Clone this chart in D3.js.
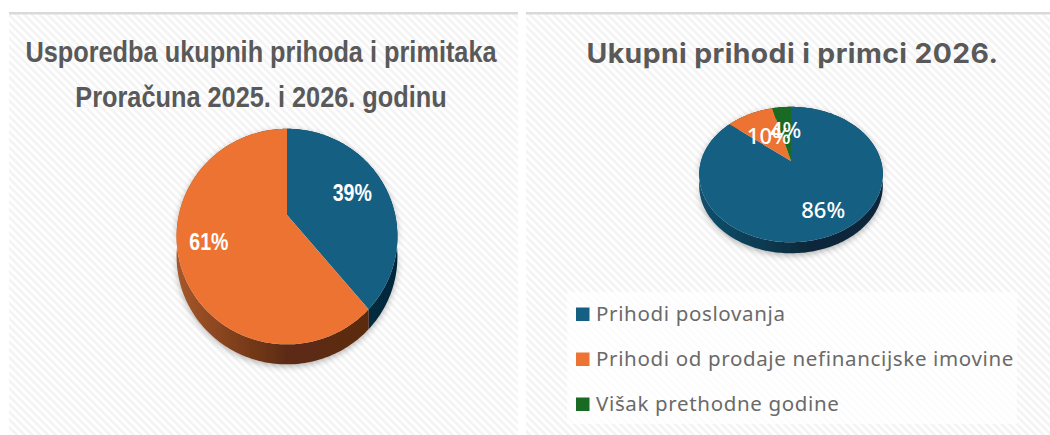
<!DOCTYPE html>
<html>
<head>
<meta charset="utf-8">
<title>Prihodi i primici</title>
<script src="https://d3js.org/d3.v7.min.js"></script>
<style>
    html, body { margin: 0; padding: 0; background: #fff; }
    svg { display: block; }
    text { font-kerning: normal; }
    .title { fill: #595959; text-anchor: middle; font-weight: 700; }
    .title-left { font-family: "Liberation Sans", sans-serif; font-size: 29px; }
    .title-right { font-family: "Inter", "Open Sans", sans-serif; font-size: 27px; font-weight: 700; letter-spacing: 0.4px; }
    .pct { fill: #fff; text-anchor: middle; font-weight: 700; }
    .pct-left { font-family: "Liberation Sans", sans-serif; font-size: 23px; }
    .pct-right { font-family: "Noto Sans", sans-serif; font-size: 22px; font-weight: 500; }
    .legend-label { font-family: "Noto Sans", sans-serif; font-size: 20.5px; fill: #6a6a6a; letter-spacing: 0.65px; }
</style>
</head>
<body>
<svg id="chart" width="1050" height="435"></svg>
<script>
    // data
    const comparisonCategories = ["2026", "2025"];
    const comparisonValues = [39, 61];
    const comparisonColors = ["#156082", "#ED7332"];

    const revenueCategories = ["Prihodi poslovanja", "Prihodi od prodaje nefinancijske imovine", "Višak prethodne godine"];
    const revenueValues = [86, 10, 4];
    const revenueColors = ["#156082", "#ED7332", "#196B24"];

    const leftTitle = ["Usporedba ukupnih prihoda i primitaka", "Proračuna 2025. i 2026. godinu"];
    const rightTitle = "Ukupni prihodi i primci 2026.";

    const svg = d3.select("#chart");
    const defs = svg.append("defs");

    // hatch background
    const hatch = defs.append("pattern")
        .attr("id", "hatch")
        .attr("patternUnits", "userSpaceOnUse")
        .attr("width", 5.5).attr("height", 5.5)
        .attr("patternTransform", "rotate(-45)");
    hatch.append("rect").attr("width", 5.5).attr("height", 5.5).attr("fill", "#fff");
    hatch.append("rect").attr("width", 2.75).attr("height", 5.5).attr("fill", "#f4f4f4");

    const shadow = defs.append("filter").attr("id", "shadow")
        .attr("x", "-10%").attr("y", "-10%").attr("width", "120%").attr("height", "125%");
    shadow.append("feDropShadow")
        .attr("dx", 0).attr("dy", 2).attr("stdDeviation", 3)
        .attr("flood-color", "#000").attr("flood-opacity", 0.3);

    // panels
    const panels = [{x: 9, w: 509}, {x: 526, w: 524}];
    panels.forEach(p => {
        svg.append("rect").attr("x", p.x).attr("y", 12).attr("width", p.w).attr("height", 423).attr("fill", "url(#hatch)");
        svg.append("rect").attr("x", p.x).attr("y", 12).attr("width", p.w).attr("height", 2.5).attr("fill", "#d9d9d9");
    });

    // legend backing
    svg.append("rect").attr("x", 567).attr("y", 292).attr("width", 450).attr("height", 132)
        .attr("fill", "#fff").attr("opacity", 0.7);

    // the pie lies on a tilted plane, so the apex sits above the middle of the ellipse
    const tilt = 0.2;
    function project(cfg, angle, r) {
        const u = r * Math.sin(angle);
        const v = -r * Math.cos(angle);
        const w = 1 - tilt * v;
        return [cfg.cx + cfg.sx * u / w, cfg.cy + cfg.sy * v / w];
    }

    function rimPoints(cfg, a0, a1) {
        const n = Math.max(2, Math.ceil((a1 - a0) / 0.02));
        return d3.range(n + 1).map(i => project(cfg, a0 + (a1 - a0) * i / n, 1));
    }

    const line = d3.line();

    function drawPie(cfg) {
        const slices = d3.pie().sort(null)(cfg.values);
        const g = svg.append("g");

        cfg.wallStops.forEach((stops, i) => {
            const grad = defs.append("linearGradient")
                .attr("id", cfg.id + "-wall-" + i)
                .attr("gradientUnits", "userSpaceOnUse")
                .attr("x1", cfg.cx - cfg.sx).attr("x2", cfg.cx + cfg.sx)
                .attr("y1", 0).attr("y2", 0);
            stops.forEach(s => grad.append("stop").attr("offset", s[0]).attr("stop-color", s[1]));
        });

        // walls first, the top face covers the far side of them
        const walls = g.append("g").attr("filter", "url(#shadow)");
        walls.selectAll("path")
            .data(slices)
            .join("path")
            .attr("fill", (d, i) => "url(#" + cfg.id + "-wall-" + i + ")")
            .attr("d", d => {
                const rim = rimPoints(cfg, d.startAngle, d.endAngle);
                const lower = rim.map(p => [p[0], p[1] + cfg.depth]).reverse();
                return line(rim.concat(lower)) + "Z";
            });

        g.append("g").selectAll("path")
            .data(slices)
            .join("path")
            .attr("fill", (d, i) => cfg.colors[i])
            .attr("d", d => line([[cfg.cx, cfg.cy]].concat(rimPoints(cfg, d.startAngle, d.endAngle))) + "Z");

        g.append("g").selectAll("text")
            .data(slices)
            .join("text")
            .attr("class", "pct " + cfg.labelClass)
            .attr("dy", "0.36em")
            .attr("transform", (d, i) => {
                const p = project(cfg, (d.startAngle + d.endAngle) / 2, cfg.labelRadius[i]);
                return "translate(" + p[0] + "," + p[1] + ") scale(" + cfg.labelScale + ",1)";
            })
            .text(d => d.value + "%");
    }

    drawPie({
        id: "left", cx: 287, cy: 215, sx: 108.2, sy: 103.5, depth: 20,
        values: comparisonValues, colors: comparisonColors,
        labelRadius: [0.67, 0.73], labelClass: "pct-left", labelScale: 0.85,
        wallStops: [
            [[0, "#0b3347"], [1, "#06283a"]],
            [[0, "#a5562a"], [0.3, "#7a3c1a"], [0.5, "#5c2b12"], [1, "#5a2a11"]]
        ]
    });

    drawPie({
        id: "right", cx: 791, cy: 161, sx: 90, sy: 65, depth: 11,
        values: revenueValues, colors: revenueColors,
        labelRadius: [0.73, 0.5, 0.53], labelClass: "pct-right", labelScale: 1,
        wallStops: [
            [[0, "#124f6c"], [0.35, "#0c3a50"], [0.6, "#08283a"], [1, "#08283a"]],
            [[0, "#7a3c1a"], [1, "#5a2a11"]],
            [[0, "#0f4016"], [1, "#0f4016"]]
        ]
    });

    // titles, the original fonts are narrower on the left and wider on the right
    svg.selectAll("text.title-left")
        .data(leftTitle)
        .join("text")
        .attr("class", "title title-left")
        .attr("transform", (d, i) => "translate(261," + (62 + i * 45) + ") scale(0.873,1)")
        .text(d => d);

    svg.append("text")
        .attr("class", "title title-right")
        .attr("transform", "translate(792.5,63) scale(1.05,1)")
        .text(rightTitle);

    // legend
    const legendY = d3.scalePoint().domain(revenueCategories).range([321, 411]);
    const legend = svg.append("g").selectAll("g")
        .data(revenueCategories)
        .join("g")
        .attr("transform", d => "translate(0," + legendY(d) + ")");
    legend.append("rect")
        .attr("x", 576).attr("y", -13.5).attr("width", 13.5).attr("height", 13.5)
        .attr("fill", (d, i) => revenueColors[i]);
    legend.append("text")
        .attr("class", "legend-label")
        .attr("x", 596).attr("y", 0)
        .text(d => d);
</script>
</body>
</html>
